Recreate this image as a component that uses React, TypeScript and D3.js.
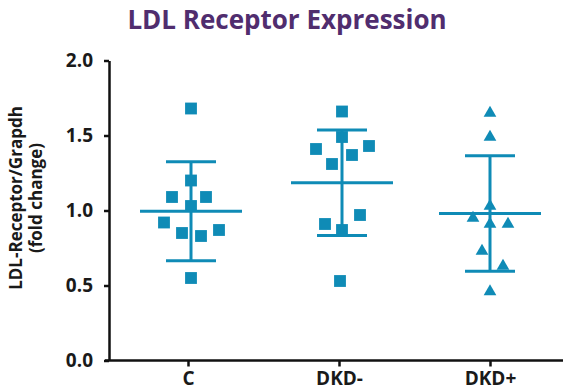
import React, { useEffect, useRef } from "react";
import * as d3 from "d3";

// Groups and per-animal fold-change values
const categories = ["C", "DKD-", "DKD+"];
const valuesC = [1.68, 1.2, 1.09, 1.09, 1.03, 0.92, 0.85, 0.83, 0.87, 0.55];
const valuesDKDminus = [1.66, 1.49, 1.41, 1.43, 1.37, 1.31, 0.97, 0.91, 0.87, 0.53];
const valuesDKDplus = [1.65, 1.49, 1.03, 0.95, 0.91, 0.91, 0.73, 0.63, 0.46];
// Group summaries (mean and standard deviation)
const means = [0.995, 1.185, 0.98];
const sds = [0.33, 0.352, 0.385];
const yTicks = [0, 0.5, 1.0, 1.5, 2.0];

// Horizontal scatter of the dots inside each column (pixels)
const jitterC = [0, 0, -19, 15, 0, -27, -9, 10, 28, 0];
const jitterDKDminus = [0, 0, -26, 27, 10, -10, 18, -17, 0, -2];
const jitterDKDplus = [0, 0, 0, -17, 0, 18, -8, 13, 0];
const columnNudge = [3, 3, 0];

const W = 563;
const H = 391;
const TEAL = "#0f8bb6";
const FONT = "'Open Sans', 'Liberation Sans', sans-serif";

export default function App() {
  const yAxisRef = useRef<SVGGElement>(null);
  const xAxisRef = useRef<SVGGElement>(null);

  const y = d3.scaleLinear().domain([0, 2]).range([360.5, 60.5]);
  const x = d3.scalePoint<string>().domain(categories).range([188, 490]);

  useEffect(() => {
    if (yAxisRef.current) {
      const g = d3.select(yAxisRef.current);
      g.call(
        d3
          .axisLeft(y)
          .tickValues(yTicks)
          .tickFormat(d3.format(".1f"))
          .tickSize(5)
          .tickSizeOuter(0)
          .tickPadding(11)
      );
      g.select(".domain").attr("stroke", "#111").attr("stroke-width", 2.5);
      g.selectAll(".tick line").attr("stroke", "#111").attr("stroke-width", 2.5);
      g.selectAll(".tick text")
        .attr("fill", "#1a1a1a")
        .style("font-family", FONT)
        .style("font-weight", "700")
        .style("font-size", "19px");
    }
    if (xAxisRef.current) {
      const g = d3.select(xAxisRef.current);
      g.call(d3.axisBottom(x).tickSize(6).tickSizeOuter(0).tickPadding(5));
      g.select(".domain").remove();
      g.selectAll(".tick line").attr("stroke", "#111").attr("stroke-width", 2.5);
      g.selectAll(".tick text")
        .attr("fill", "#1a1a1a")
        .style("font-family", FONT)
        .style("font-weight", "700")
        .style("font-size", "19px");
    }
  }, []);

  const groups = [
    { values: valuesC, jitter: jitterC, shape: d3.symbolSquare, size: 140 },
    { values: valuesDKDminus, jitter: jitterDKDminus, shape: d3.symbolSquare, size: 140 },
    { values: valuesDKDplus, jitter: jitterDKDplus, shape: d3.symbolTriangle, size: 70 },
  ];

  return (
    <svg
      width={W}
      height={H}
      style={{ position: "absolute", left: 0, top: 0, background: "#fff" }}
    >
      <text
        x={287}
        y={29}
        textAnchor="middle"
        fill="#502d6e"
        style={{ fontFamily: FONT, fontWeight: 700, fontSize: "26px" }}
      >
        LDL Receptor Expression
      </text>

      <g transform="translate(17,198) rotate(-90)">
        <text
          x={0}
          y={5}
          textAnchor="middle"
          fill="#1a1a1a"
          style={{ fontFamily: FONT, fontWeight: 700, fontSize: "17px" }}
        >
          LDL-Receptor/Grapdh
        </text>
        <text
          x={0}
          y={25}
          textAnchor="middle"
          fill="#1a1a1a"
          style={{ fontFamily: FONT, fontWeight: 700, fontSize: "17px" }}
        >
          (fold change)
        </text>
      </g>

      <g ref={yAxisRef} transform="translate(109,0)" />
      <line x1={105} x2={563} y1={360.5} y2={360.5} stroke="#111" strokeWidth={2.5} />
      <g ref={xAxisRef} transform="translate(0,360.5)" />

      {groups.map((grp, i) => {
        const cx = (x(categories[i]) as number) + columnNudge[i];
        const m = means[i];
        const sd = sds[i];
        const sym = d3.symbol().type(grp.shape).size(grp.size);
        return (
          <g key={categories[i]}>
            {grp.values.map((v, j) => (
              <path
                key={j}
                d={sym() as string}
                transform={`translate(${cx + grp.jitter[j]},${y(v)})`}
                fill={TEAL}
              />
            ))}
            <line x1={cx} x2={cx} y1={y(m + sd)} y2={y(m - sd)} stroke={TEAL} strokeWidth={3} />
            <line x1={cx - 51} x2={cx + 51} y1={y(m)} y2={y(m)} stroke={TEAL} strokeWidth={3} />
            <line x1={cx - 25} x2={cx + 25} y1={y(m + sd)} y2={y(m + sd)} stroke={TEAL} strokeWidth={3} />
            <line x1={cx - 25} x2={cx + 25} y1={y(m - sd)} y2={y(m - sd)} stroke={TEAL} strokeWidth={3} />
          </g>
        );
      })}
    </svg>
  );
}
